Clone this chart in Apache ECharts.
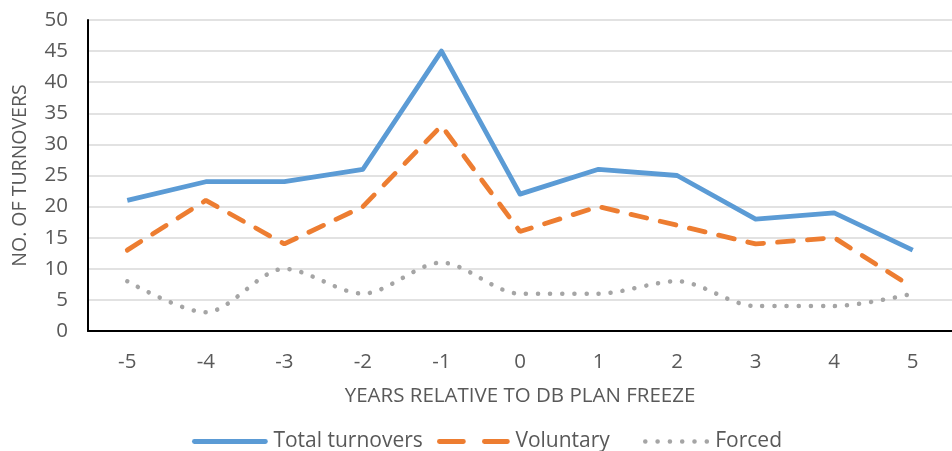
<!DOCTYPE html>
<html>
<head>
<meta charset="utf-8">
<script src="https://cdn.jsdelivr.net/npm/echarts@6/dist/echarts.min.js"></script>
<style>html,body{margin:0;padding:0;background:#fff}#c{width:952px;height:451px}</style>
</head>
<body>
<div id="c"></div>
<script>
const categories = ['-5','-4','-3','-2','-1','0','1','2','3','4','5'];
const totalTurnovers = [21, 24, 24, 26, 45, 22, 26, 25, 18, 19, 13];
const voluntary = [13, 21, 14, 20, 33, 16, 20, 17, 14, 15, 7];
const forced = [8, 3, 10, 6, 11, 6, 6, 8, 4, 4, 6];
const yTicks = {min: 0, max: 50, interval: 5};

const FONT = 'Open Sans';
const TXT = '#595959';
const BLUE = '#5B9BD5', ORANGE = '#ED7D31', GRAY = '#A5A5A5';

function legend(name, left, width, lineStyle) {
  return {
    left: left, top: 431, padding: 0,
    itemWidth: width, itemHeight: 14, itemGap: 0,
    textStyle: {fontFamily: FONT, fontSize: 21, color: TXT, padding: [0, 0, 0, 3]},
    itemStyle: {opacity: 0},
    data: [{name: name, lineStyle: lineStyle}]
  };
}

const chart = echarts.init(document.getElementById('c'), null, {renderer: 'canvas'});
chart.setOption({
  animation: false,
  backgroundColor: '#ffffff',
  textStyle: {fontFamily: FONT},
  grid: {left: 88, right: -11, top: 20, bottom: 120, containLabel: false},
  legend: [
    legend('Total turnovers', 192, 71, {color: BLUE, width: 4.8, type: 'solid', cap: 'round'}),
    legend('Voluntary', 437, 68, {color: ORANGE, width: 4.8, type: [24, 21], cap: 'round'}),
    legend('Forced', 643, 62, {color: GRAY, width: 4.5, type: [0.1, 12.2], cap: 'round'})
  ],
  xAxis: {
    type: 'category',
    data: categories,
    boundaryGap: true,
    name: 'YEARS RELATIVE TO DB PLAN FREEZE',
    nameLocation: 'middle',
    nameGap: 55,
    nameTextStyle: {fontFamily: FONT, fontSize: 20.5, color: TXT},
    axisLine: {lineStyle: {color: '#000', width: 2}},
    axisTick: {show: false},
    axisLabel: {fontFamily: FONT, fontSize: 20.5, color: TXT, margin: 21}
  },
  yAxis: {
    type: 'value',
    min: yTicks.min, max: yTicks.max, interval: yTicks.interval,
    name: 'NO. OF TURNOVERS',
    nameLocation: 'middle',
    nameGap: 58,
    nameTextStyle: {fontFamily: FONT, fontSize: 19.5, color: TXT},
    axisLine: {show: true, lineStyle: {color: '#000', width: 2}},
    axisTick: {show: false},
    axisLabel: {fontFamily: FONT, fontSize: 20.5, color: TXT, margin: 20},
    splitLine: {lineStyle: {color: '#D9D9D9', width: 1.5}}
  },
  series: [
    {
      name: 'Total turnovers', type: 'line', data: totalTurnovers,
      symbol: 'none', color: BLUE,
      lineStyle: {color: BLUE, width: 4.8, join: 'round'}, z: 3
    },
    {
      name: 'Voluntary', type: 'line', data: voluntary,
      symbol: 'none', color: ORANGE,
      lineStyle: {color: ORANGE, width: 4.8, type: [16, 14], cap: 'round'}, z: 2
    },
    {
      name: 'Forced', type: 'line', data: forced, smooth: 0.3,
      symbol: 'none', color: GRAY,
      lineStyle: {color: GRAY, width: 4.5, type: [0.1, 12], cap: 'round'}, z: 1
    }
  ]
});
</script>
</body>
</html>
